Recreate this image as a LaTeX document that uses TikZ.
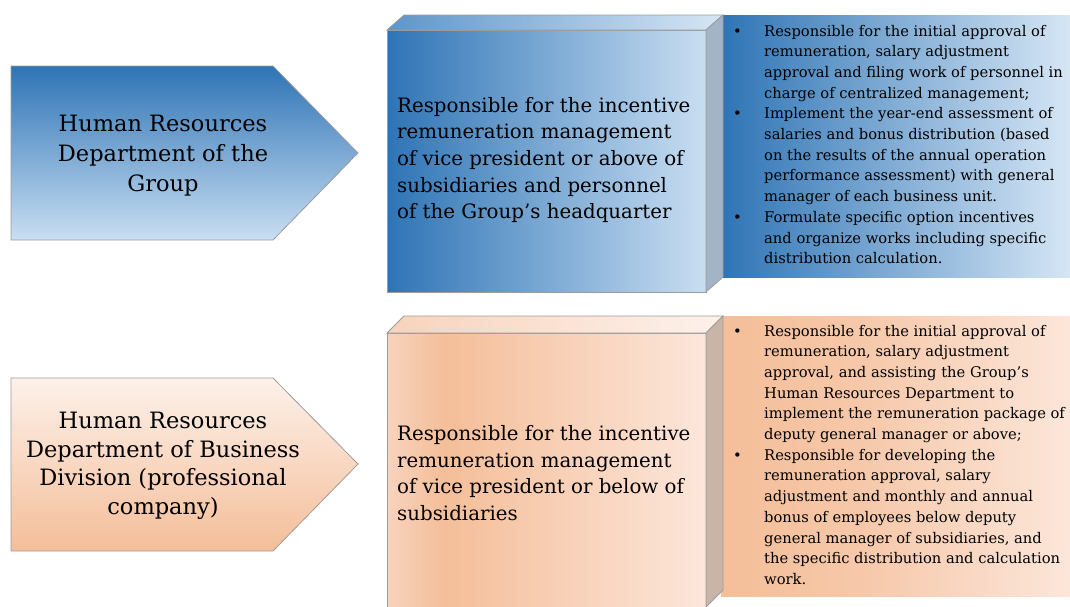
\documentclass[tikz,border=0pt]{standalone}
\usepackage{fontspec}
\setmainfont{DejaVu Serif}
\usetikzlibrary{positioning}

\definecolor{bluedark}{HTML}{2E74B5}
\definecolor{bluemid}{HTML}{5E95C9}
\definecolor{bluelight}{HTML}{C9DEF2}
\definecolor{bluepale}{HTML}{D6E6F5}
\definecolor{blueside}{HTML}{A3B4C6}
\definecolor{orangedark}{HTML}{F4BE99}
\definecolor{orangemid}{HTML}{F8D3BD}
\definecolor{orangelight}{HTML}{FCE6DA}
\definecolor{orangepale}{HTML}{FDF1EA}
\definecolor{orangeside}{HTML}{C9B5A8}
\definecolor{edgegray}{HTML}{9C9C9C}

% the path covers the 25bp--75bp part of a shading
\pgfdeclarehorizontalshading{orangefront}{100bp}{color(0bp)=(orangemid); color(25bp)=(orangemid); color(34bp)=(orangedark); color(75bp)=(orangelight); color(100bp)=(orangelight)}
\pgfdeclarehorizontalshading{orangebox}{100bp}{color(0bp)=(orangedark); color(25bp)=(orangedark); color(45bp)=(orangedark!75!orangelight); color(75bp)=(orangelight); color(100bp)=(orangelight)}

\tikzset{
	outline/.style={draw=edgegray, line width=0.8pt},
	pentlabel/.style={align=center, inner sep=0pt, font=\fontsize{22.5}{30}\selectfont},
	dutylabel/.style={align=left, inner sep=0pt, anchor=west, font=\fontsize{19.8}{26.6}\selectfont},
	listlabel/.style={inner sep=0pt, anchor=base west, font=\fontsize{14.7}{20.7}\selectfont}
}

\newcommand{\bitem}{\textbullet}

\begin{document}
\begin{tikzpicture}[x=1pt, y=-1pt]
			%%%%% START %%%%%
			\useasboundingbox (0, 0) rectangle (1070, 606);
			
			%% group row
			\fill[left color=bluedark, right color=bluepale] (721, 15) rectangle (1070, 277);
			
			\draw[outline, top color=bluedark, bottom color=bluelight] (11, 66) -- (273, 66) -- (358, 153) -- (273, 240) -- (11, 240) -- cycle;
			
			\draw[outline, left color=bluedark, right color=bluelight] (387, 30) rectangle (706, 292);
			\draw[outline, left color=bluemid, right color=bluepale] (387, 30) -- (404, 15) -- (723, 15) -- (706, 30) -- cycle;
			\draw[outline, fill=blueside] (706, 30) -- (723, 15) -- (723, 277) -- (706, 292) -- cycle;
			
			\node[pentlabel] (grouphr) at (163, 156) {Human Resources\\Department of the\\Group};
			
			\node[dutylabel] (groupduty) at (397, 160) {Responsible for the incentive\\remuneration management\\of vice president or above of\\subsidiaries and personnel\\of the Group’s headquarter};
			
			\node[listlabel] (grouplist) at (733, 36) {\begin{tabular}[t]{@{}p{31pt}@{}l@{}}
				\bitem & Responsible for the initial approval of\\
				& remuneration, salary adjustment\\
				& approval and filing work of personnel in\\
				& charge of centralized management;\\
				\bitem & Implement the year-end assessment of\\
				& salaries and bonus distribution (based\\
				& on the results of the annual operation\\
				& performance assessment) with general\\
				& manager of each business unit.\\
				\bitem & Formulate specific option incentives\\
				& and organize works including specific\\
				& distribution calculation.
			\end{tabular}};
			
			%% division row
			\fill[shading=orangebox] (721, 316) rectangle (1070, 596);
			
			\draw[outline, top color=orangepale, bottom color=orangedark] (11, 378) -- (273, 378) -- (358, 464) -- (273, 551) -- (11, 551) -- cycle;
			
			\draw[outline, shading=orangefront] (387, 333) rectangle (706, 607);
			\draw[outline, left color=orangemid, right color=orangepale] (387, 333) -- (404, 316) -- (723, 316) -- (706, 333) -- cycle;
			\draw[outline, fill=orangeside] (706, 333) -- (723, 316) -- (723, 590) -- (706, 607) -- cycle;
			
			\node[pentlabel, font=\fontsize{22.5}{28.5}\selectfont] (divisionhr) at (163, 466) {Human Resources\\Department of Business\\Division (professional\\company)};
			
			\node[dutylabel] (divisionduty) at (397, 473) {Responsible for the incentive\\remuneration management\\of vice president or below of\\subsidiaries};
			
			\node[listlabel] (divisionlist) at (733, 336) {\begin{tabular}[t]{@{}p{31pt}@{}l@{}}
				\bitem & Responsible for the initial approval of\\
				& remuneration, salary adjustment\\
				& approval, and assisting the Group’s\\
				& Human Resources Department to\\
				& implement the remuneration package of\\
				& deputy general manager or above;\\
				\bitem & Responsible for developing the\\
				& remuneration approval, salary\\
				& adjustment and monthly and annual\\
				& bonus of employees below deputy\\
				& general manager of subsidiaries, and\\
				& the specific distribution and calculation\\
				& work.
			\end{tabular}};
			
			%%%%% END %%%%%
\end{tikzpicture}
\end{document}
